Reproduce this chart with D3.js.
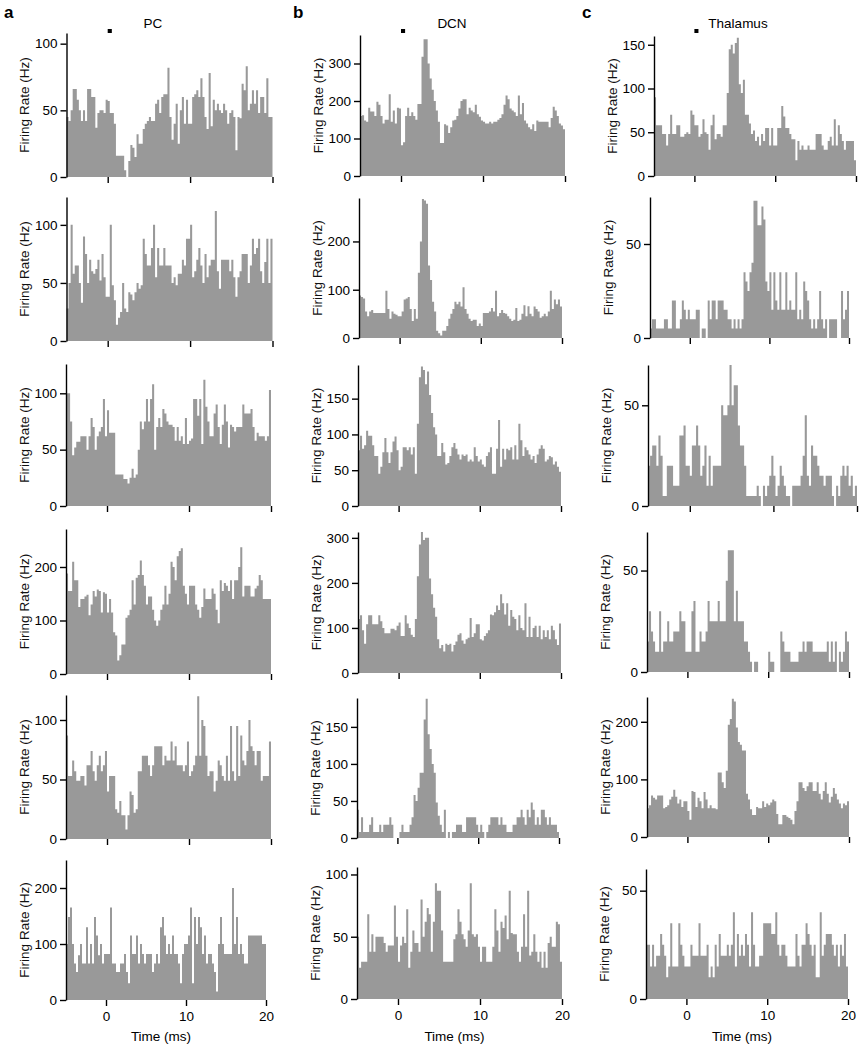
<!DOCTYPE html>
<html><head><meta charset="utf-8">
<script src="https://cdn.jsdelivr.net/npm/d3@7/dist/d3.min.js"></script>
<style>
html,body{margin:0;padding:0;background:#fff;}
svg text{font-family:"Liberation Sans",Arial,sans-serif;}
</style></head>
<body><svg id="chart" width="865" height="1050"></svg>
<script>
// ---- data: firing rate (Hz) per 0.25 ms bin, time -5 .. 20 ms ----
const binStart = -5, binWidth = 0.25;
const xTickValues = [0, 10, 20];
const columnLetters = ["a", "b", "c"];
const columnTitles = ["PC", "DCN", "Thalamus"];
const stimulus = [0, 0.5];

const pc1 = [45,42,50,66,66,58,50,42,50,42, 66,66,60,60,37,48,50,50,48,58, 57,48,48,40,16,16,16,16,5,0,
  12,24,22,15,32,25,25,36,40,42, 45,42,42,55,58,48,60,62,62,82, 45,28,40,55,25,50,60,40,58,40,
  40,60,62,65,60,74,60,45,36,78, 38,58,50,55,50,48,55,50,40,48, 50,45,20,45,44,70,65,83,50,55,
  65,55,65,48,60,60,48,74,45,45];
const pc2 = [28,50,100,58,65,65,50,33,90,75, 50,70,60,58,62,70,52,75,55,38, 38,100,48,35,14,20,25,50,28,25,
  42,40,35,42,50,45,48,88,75,65, 65,80,100,55,80,65,65,80,65,65, 65,50,55,48,58,58,70,65,88,88,
  100,55,60,70,80,65,50,75,55,65, 70,70,112,60,45,70,70,70,70,60, 70,55,38,55,60,75,75,75,50,65,
  88,75,80,88,60,50,68,88,50,88];
const pc3 = [100,100,75,45,52,57,57,62,62,62, 50,62,78,70,50,62,66,70,95,62, 85,65,65,65,28,28,28,28,24,24,
  20,25,33,25,28,50,75,68,75,95, 75,95,108,50,70,78,70,86,82,75, 72,72,70,58,70,58,62,55,78,55,
  58,60,95,95,80,95,55,112,88,75, 62,62,82,90,70,55,72,90,75,52, 72,70,66,70,70,70,90,82,82,82,
  86,70,58,65,62,62,62,58,62,103];
const pc4 = [188,155,155,210,175,175,125,140,140,145, 148,110,130,155,145,158,155,115,153,150,
  115,140,115,78,72,25,35,55,55,105, 110,120,175,130,180,185,212,185,165,130,
  145,145,120,100,90,100,120,130,165,130, 150,210,200,175,220,230,235,165,150,130,
  165,165,165,130,120,105,125,160,140,140, 140,160,150,120,95,175,155,170,165,155,
  175,140,175,175,200,237,145,165,165,165, 145,145,160,165,185,175,140,140,140,140];
const pc5 = [87,53,53,66,57,49,49,53,53,45, 62,62,74,57,49,62,70,57,62,74, 40,53,53,53,25,22,32,20,20,8,
  20,40,37,22,25,57,57,70,70,70, 62,53,62,78,78,78,78,62,70,66, 66,82,66,78,62,62,62,57,62,82,
  53,57,62,70,120,70,100,95,70,53, 57,57,40,49,66,62,53,49,70,49, 95,57,49,95,53,87,66,62,74,100,
  78,74,62,74,74,49,53,53,53,82];
const pc6 = [100,148,165,100,65,50,80,100,65,65, 130,65,100,65,148,115,80,100,65,82,
  82,82,165,65,65,50,50,65,65,82, 50,30,115,82,82,115,65,100,82,65, 82,82,82,50,65,82,65,130,148,115,
  82,100,82,115,82,82,65,30,82,100, 100,115,165,30,148,100,148,130,82,115,
  65,82,82,65,50,15,100,148,100,82, 82,82,82,200,100,148,82,100,82,65, 65,115,115,115,115,115,115,115,100,100];

const dcn1 = [160,162,148,145,182,172,172,160,198,190, 160,140,150,150,218,145,175,140,182,180,
  82,90,160,182,160,170,160,150,192,192, 318,365,365,300,260,230,200,175,145,88,
  88,138,135,115,130,148,150,160,180,200, 205,205,165,182,175,170,190,165,158,148,
  145,140,140,145,140,145,145,150,155,165, 190,215,205,180,175,170,160,215,165,195,
  148,140,130,125,138,120,148,145,145,145, 145,145,130,155,185,175,160,140,135,125];
const dcn2 = [88,85,82,55,45,55,58,52,52,52, 52,52,52,98,60,40,55,50,48,45, 45,55,80,82,85,60,35,60,40,135,
  200,288,285,278,150,120,75,55,15,10, 5,15,15,25,40,50,60,75,70,75, 65,105,60,50,40,35,38,38,25,30,
  25,52,52,52,55,62,55,98,45,52, 58,52,50,45,40,35,38,62,35,38, 50,68,45,66,50,45,65,60,55,42,
  45,50,45,55,98,60,80,70,80,65];
const dcn3 = [78,98,80,85,105,98,98,85,70,70, 45,55,75,95,75,60,75,90,97,78, 50,55,82,82,78,82,72,82,45,115,
  180,195,190,170,188,155,130,110,100,70, 70,88,75,58,60,70,82,88,80,72, 65,72,70,72,62,65,62,82,70,62,
  65,58,55,70,75,82,45,45,80,120, 55,80,65,80,78,82,65,85,65,115, 92,70,82,78,72,65,70,60,72,80,
  85,80,62,65,70,68,58,62,55,48];
const dcn4 = [120,128,95,65,108,128,128,108,108,108, 128,115,100,88,88,88,98,98,95,105,
  112,82,82,128,110,100,85,80,120,215, 285,315,295,300,300,210,175,145,125,75,
  55,62,48,65,62,65,48,62,70,85, 88,72,65,75,78,122,80,88,108,108, 75,72,82,88,95,130,128,135,150,140,
  175,155,130,155,105,140,125,120,95,128, 100,95,155,80,125,80,100,105,80,105, 75,95,80,95,75,105,95,75,62,110];
const dcn5 = [38,8,28,8,8,8,18,28,8,8, 8,18,8,18,18,18,28,18,0,0, 0,8,18,8,8,8,18,28,58,50,
  68,88,88,160,188,140,120,100,88,48, 30,18,8,38,0,8,0,8,8,18, 18,18,8,8,28,28,28,28,28,18,
  8,18,8,0,8,18,28,28,28,28, 18,28,18,18,8,8,8,18,18,28, 28,38,28,18,38,28,48,38,18,28,
  18,38,38,28,18,28,18,18,18,8];
const dcn6 = [50,25,30,30,30,68,38,52,38,50, 50,50,50,45,38,43,43,43,75,50, 30,43,50,45,72,25,38,55,45,45,
  38,80,50,62,73,68,38,62,93,87, 87,55,30,30,30,30,30,48,52,72, 62,52,48,42,55,93,52,50,52,42,
  30,42,42,30,30,30,42,72,55,38, 62,57,67,48,87,53,52,52,38,30, 42,68,42,87,35,38,52,38,30,38,
  25,38,25,45,50,42,42,62,60,30];

const thal1 = [90,58,58,58,48,48,35,48,70,48, 48,58,58,45,45,48,50,48,75,70, 58,58,45,48,65,50,48,30,58,70,
  42,48,48,45,58,58,95,145,150,140, 152,158,105,95,110,70,70,60,48,52, 40,45,35,48,40,55,55,35,55,35,
  35,55,55,80,68,55,55,48,42,42, 18,40,30,35,30,30,35,30,30,30, 48,48,48,35,30,30,40,45,35,65,
  35,58,48,40,30,40,40,40,40,18];
const thal2 = [5,10,10,5,5,5,5,10,10,5, 5,20,20,5,5,10,20,15,10,15, 10,10,10,15,15,0,5,5,0,20,
  10,20,20,10,20,20,20,15,15,10, 10,5,10,5,10,5,10,35,30,25, 35,40,73,73,60,60,70,63,30,25,
  35,15,35,20,15,35,15,15,35,15, 20,15,15,35,10,15,10,30,25,20, 10,5,10,5,10,25,10,5,10,0,
  10,10,10,10,0,0,25,10,15,25];
const thal3 = [20,25,30,30,20,35,25,5,5,20, 20,20,10,10,10,35,35,40,20,20, 15,30,30,40,30,15,20,30,10,25,
  10,20,20,20,20,50,45,45,50,70, 50,60,60,40,30,30,20,5,5,5, 5,5,10,5,0,10,5,10,15,25,
  15,5,10,20,15,10,5,5,0,10, 10,10,10,15,25,45,15,10,30,25, 25,20,15,15,10,15,15,15,5,0,
  10,5,15,20,15,20,10,15,5,10];
const thal4 = [15,30,20,15,10,10,30,10,15,15, 25,15,15,20,20,20,30,25,25,10, 10,10,30,35,10,10,20,15,15,20,
  35,25,25,25,25,35,25,25,25,45, 60,60,60,25,40,25,25,25,15,15, 10,5,0,5,5,0,0,0,0,0,
  10,5,5,0,0,0,20,15,10,10, 10,5,5,5,5,10,10,15,10,15, 15,15,10,10,10,10,10,10,10,15,
  5,15,5,15,0,10,5,10,20,15];
const thal5 = [50,55,72,68,65,72,72,72,50,52, 55,65,70,82,70,58,65,52,62,62, 45,30,80,78,52,68,62,50,78,65,
  50,55,50,50,48,112,112,95,85,115, 195,205,240,235,190,165,160,150,150,75, 65,48,38,38,52,50,50,62,52,58,
  55,60,65,62,40,22,22,38,38,35, 33,30,22,45,62,95,95,85,80,88, 95,95,80,80,95,75,65,80,95,75,
  60,70,85,75,65,58,50,58,55,62];
const thal6 = [25,25,15,25,15,20,20,30,25,20, 10,15,35,15,15,15,35,25,20,15, 15,15,25,20,20,20,35,20,20,20,
  25,10,15,10,25,15,30,20,20,20, 25,20,25,40,15,30,20,25,20,30, 25,15,40,25,15,15,20,20,35,35,
  35,35,30,30,40,25,20,25,25,20, 15,15,15,15,30,20,15,25,25,35, 30,25,20,25,10,10,40,20,25,30,
  30,30,25,20,25,15,25,20,30,15];

const series = [[pc1,pc2,pc3,pc4,pc5,pc6],[dcn1,dcn2,dcn3,dcn4,dcn5,dcn6],[thal1,thal2,thal3,thal4,thal5,thal6]];
const yMax = [[108,124,126,271,121,250],[376,290,197,313,189,106],[160,75,70,69,243,60]];
const yTicks = [
  [[0,50,100],[0,50,100],[0,50,100],[0,100,200],[0,50,100],[0,100,200]],
  [[0,100,200,300],[0,100,200],[0,50,100,150],[0,100,200,300],[0,50,100,150],[0,50,100]],
  [[0,50,100,150],[0,50],[0,50],[0,50],[0,100,200],[0,50]]
];

// ---- layout (pixels): [xLeft, xRight, yTop, yBase] ----
const layout = [
  [[66.5,272.5,33,177],[66.5,272.5,197,341],[66,271,364,506],[66,271,529,674],[66,271,695,839],[66,266,860,1000]],
  [[360,565,35,176],[359,562,198,338],[358,561,365,506],[358,561,532,673],[357,559,698,838],[357,562,867,999]],
  [[654,856,36,176],[650,849,197,338],[648,857,365,506],[647,849,532,672],[647,849,697,837],[646,848,869,999]]
];
const letterX = [4, 293, 582];
const titleX = [153, 452, 738];

const svg = d3.select("#chart");
const FS = "13.5px";

for (let c = 0; c < 3; c++) {
  svg.append("text").attr("x", letterX[c]).attr("y", 18).attr("font-size", "17px")
    .attr("font-weight", "bold").text(columnLetters[c]);
  svg.append("text").attr("x", titleX[c]).attr("y", 28).attr("font-size", FS)
    .attr("text-anchor", "middle").text(columnTitles[c]);

  for (let r = 0; r < 6; r++) {
    const [xl, xr, yt, yb] = layout[c][r];
    const vals = series[c][r];
    const x = d3.scaleLinear().domain([-5, 20]).range([xl, xr]);
    const y = d3.scaleLinear().domain([0, yMax[c][r]]).range([yb, yt]);
    const g = svg.append("g");

    const pts = vals.map((v, i) => ({t: binStart + i * binWidth, v}));
    pts.push({t: binStart + vals.length * binWidth, v: vals[vals.length - 1]});
    const area = d3.area().curve(d3.curveStepAfter)
      .x(d => x(d.t)).y0(y(0)).y1(d => y(Math.min(d.v, yMax[c][r])));
    g.append("path").datum(pts).attr("d", area).attr("fill", "#999999");

    const ya = g.append("g").attr("transform", `translate(${xl},0)`)
      .call(d3.axisLeft(y).tickValues(yTicks[c][r]).tickSize(6).tickSizeOuter(0).tickPadding(3));
    ya.select(".domain").attr("stroke-width", 1.4);
    ya.selectAll(".tick line").attr("stroke-width", 1.4);
    ya.selectAll("text").attr("font-size", FS).attr("fill", "#000")
      .attr("font-family", '"Liberation Sans",Arial,sans-serif');

    const xa = g.append("g").attr("transform", `translate(0,${yb})`)
      .call(d3.axisBottom(x).tickValues(xTickValues).tickSize(6).tickSizeOuter(0).tickPadding(5)
        .tickFormat(r === 5 ? d3.format("d") : () => ""));
    xa.select(".domain").remove();
    xa.selectAll(".tick line").attr("stroke-width", 1.4);
    xa.selectAll("text").attr("font-size", FS).attr("fill", "#000")
      .attr("font-family", '"Liberation Sans",Arial,sans-serif');

    g.append("text").attr("transform", `translate(${xl - 42},${(yt + yb) / 2}) rotate(-90)`)
      .attr("text-anchor", "middle").attr("dominant-baseline", "central")
      .attr("font-size", FS).attr("fill", "#111").text("Firing Rate (Hz)");

    if (r === 0) {
      g.append("rect").attr("x", x(stimulus[0])).attr("y", 29)
        .attr("width", x(stimulus[1]) - x(stimulus[0])).attr("height", 4).attr("fill", "#000");
    }
    if (r === 5) {
      g.append("text").attr("x", (xl + xr) / 2 - 5).attr("y", 1041).attr("font-size", FS)
        .attr("text-anchor", "middle").text("Time (ms)");
    }
  }
}
</script></body></html>
